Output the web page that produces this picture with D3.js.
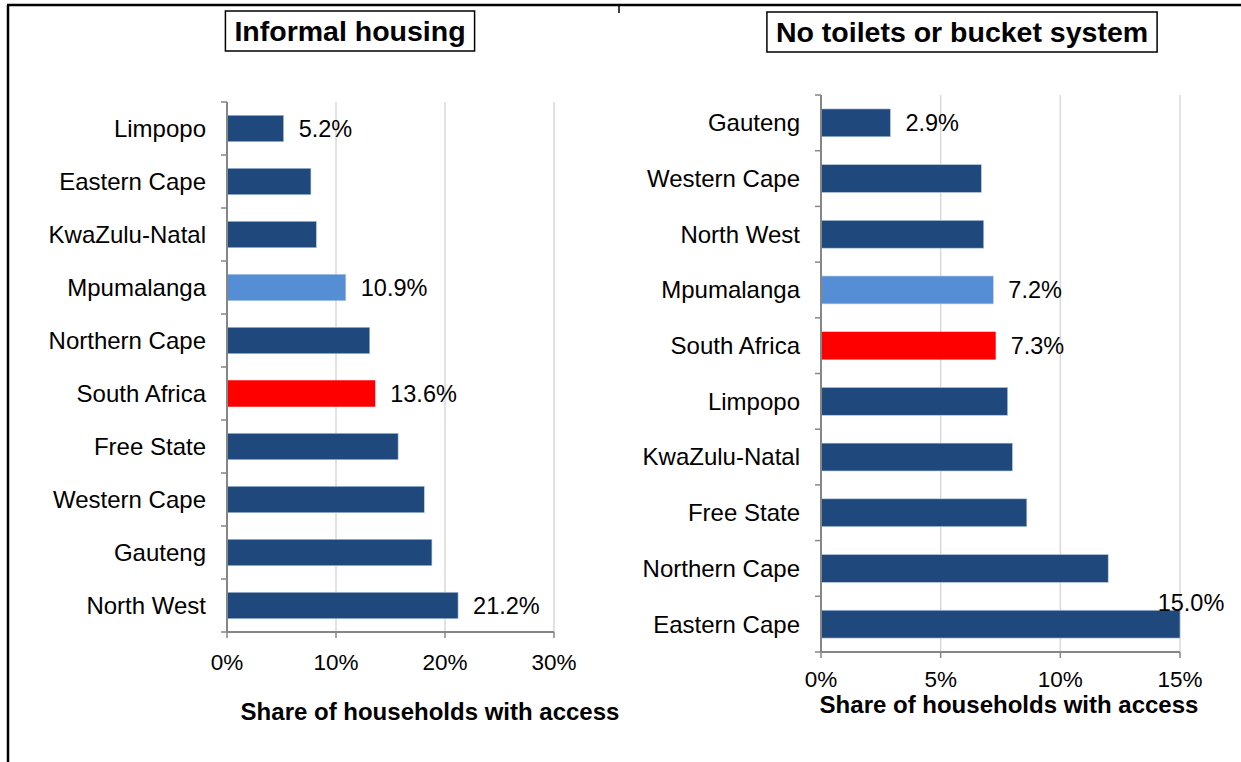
<!DOCTYPE html>
<html>
<head>
<meta charset="utf-8">
<script src="https://cdn.jsdelivr.net/npm/d3@7"></script>
<style>
  html, body { margin: 0; padding: 0; background: #fff; }
  svg { display: block; font-family: "Liberation Sans", Arial, sans-serif; }
</style>
</head>
<body>
<div id="chart"></div>
<script>
// informal housing panel
var housingProvinces = ["Limpopo", "Eastern Cape", "KwaZulu-Natal", "Mpumalanga", "Northern Cape",
    "South Africa", "Free State", "Western Cape", "Gauteng", "North West"];
var housingValues = [5.2, 7.7, 8.2, 10.9, 13.1, 13.6, 15.7, 18.1, 18.8, 21.2];
var housingLabelled = [true, false, false, true, false, true, false, false, false, true];
var housingTicks = [0, 10, 20, 30];

// no toilets / bucket system panel
var toiletProvinces = ["Gauteng", "Western Cape", "North West", "Mpumalanga", "South Africa",
    "Limpopo", "KwaZulu-Natal", "Free State", "Northern Cape", "Eastern Cape"];
var toiletValues = [2.9, 6.7, 6.8, 7.2, 7.3, 7.8, 8.0, 8.6, 12.0, 15.0];
var toiletLabelled = [true, false, false, true, true, false, false, false, false, true];
var toiletTicks = [0, 5, 10, 15];

var width = 1241;
var height = 762;

var svg = d3.select("#chart")
    .append("svg")
    .attr("width", width)
    .attr("height", height)

// outer frame (top + left edge)
svg.append("line")
    .attr("x1", 7).attr("x2", width).attr("y1", 5).attr("y2", 5)
    .attr("stroke", "#000").attr("stroke-width", 2.5)
svg.append("line")
    .attr("x1", 8).attr("x2", 8).attr("y1", 5).attr("y2", height)
    .attr("stroke", "#000").attr("stroke-width", 2.5)
svg.append("line")
    .attr("x1", 619).attr("x2", 619).attr("y1", 6).attr("y2", 13)
    .attr("stroke", "#000").attr("stroke-width", 1.5)

function barColor(name) {
    if (name == "South Africa") return "#ff0000";
    if (name == "Mpumalanga") return "#558ed5";
    return "#1f497d";
}

function drawPanel(p) {
    var g = svg.append("g");

    var x = d3.scaleLinear().domain(p.domain).range(p.xRange);
    var y = d3.scaleBand().domain(p.cats).range(p.yRange)
        .paddingInner(0.5).paddingOuter(0.25);
    var step = y.step();

    var rows = p.cats.map(function (c, i) {
        return { name: c, value: p.values[i], label: p.labelled[i] };
    });

    // gridlines
    g.selectAll(".grid")
        .data(p.ticks.slice(1))
        .enter().append("line")
        .attr("x1", function (d) { return x(d) })
        .attr("x2", function (d) { return x(d) })
        .attr("y1", p.yRange[0])
        .attr("y2", p.yRange[1])
        .attr("stroke", "#d9d9d9")
        .attr("stroke-width", 1.5)

    // bars
    g.selectAll(".bar")
        .data(rows)
        .enter().append("rect")
        .attr("x", x(0))
        .attr("y", function (d) { return y(d.name) })
        .attr("width", function (d) { return x(d.value) - x(0) })
        .attr("height", y.bandwidth())
        .attr("fill", function (d) { return barColor(d.name) })
        .attr("stroke", function (d) { return d.name == "South Africa" ? "none" : "#b9cde5" })
        .attr("stroke-width", 0.6)

    // y axis line + ticks between categories
    g.append("line")
        .attr("x1", x(0)).attr("x2", x(0))
        .attr("y1", p.yRange[0]).attr("y2", p.yRange[1])
        .attr("stroke", "#868686").attr("stroke-width", 2)
    g.selectAll(".ytick")
        .data(d3.range(p.cats.length + 1))
        .enter().append("line")
        .attr("x1", x(0) - 6).attr("x2", x(0))
        .attr("y1", function (i) { return p.yRange[0] + i * step })
        .attr("y2", function (i) { return p.yRange[0] + i * step })
        .attr("stroke", "#868686").attr("stroke-width", 1.5)

    // x axis
    g.append("line")
        .attr("x1", x(0)).attr("x2", x(p.domain[1]))
        .attr("y1", p.yRange[1]).attr("y2", p.yRange[1])
        .attr("stroke", "#868686").attr("stroke-width", 2)
    g.selectAll(".xtick")
        .data(p.ticks)
        .enter().append("line")
        .attr("x1", function (d) { return x(d) })
        .attr("x2", function (d) { return x(d) })
        .attr("y1", p.yRange[1]).attr("y2", p.yRange[1] + 6)
        .attr("stroke", "#868686").attr("stroke-width", 1.5)
    g.selectAll(".xlabel")
        .data(p.ticks)
        .enter().append("text")
        .attr("x", function (d) { return x(d) })
        .attr("y", p.tickY)
        .attr("text-anchor", "middle")
        .attr("font-size", 22.5)
        .text(function (d) { return d + "%" })

    // category labels
    g.selectAll(".cat")
        .data(rows)
        .enter().append("text")
        .attr("x", x(0) - 21)
        .attr("y", function (d) { return y(d.name) + y.bandwidth() / 2 })
        .attr("dy", "0.35em")
        .attr("text-anchor", "end")
        .attr("font-size", 24)
        .text(function (d) { return d.name })

    // value labels (only a few shown)
    g.selectAll(".val")
        .data(rows.filter(function (d) { return d.label }))
        .enter().append("text")
        .attr("x", function (d) {
            return d.value >= p.domain[1] ? x(d.value) + 11 : x(d.value) + 15;
        })
        .attr("y", function (d) {
            var cy = y(d.name) + y.bandwidth() / 2;
            return d.value >= p.domain[1] ? cy - 21 : cy;
        })
        .attr("dy", "0.35em")
        .attr("text-anchor", function (d) { return d.value >= p.domain[1] ? "middle" : "start" })
        .attr("font-size", 23.5)
        .text(function (d) { return d.value.toFixed(1) + "%" })

    // axis title
    g.append("text")
        .attr("x", p.axisTitleX)
        .attr("y", p.axisTitleY)
        .attr("text-anchor", "middle")
        .attr("font-size", 24)
        .attr("font-weight", "bold")
        .text("Share of households with access")

    // boxed panel title
    var t = g.append("text")
        .attr("x", p.titleX)
        .attr("y", p.titleY)
        .attr("text-anchor", "middle")
        .attr("font-size", 28.5)
        .attr("font-weight", "bold")
        .text(p.title)
    var bb = t.node().getBBox();
    g.insert("rect", "text")
        .attr("x", bb.x - 9)
        .attr("y", p.boxY)
        .attr("width", bb.width + 18)
        .attr("height", 40)
        .attr("fill", "#fff")
        .attr("stroke", "#000")
        .attr("stroke-width", 1.5)
}

drawPanel({
    cats: housingProvinces,
    values: housingValues,
    labelled: housingLabelled,
    ticks: housingTicks,
    domain: [0, 30],
    xRange: [227, 554],
    yRange: [102, 632],
    tickY: 670,
    axisTitleX: 430,
    axisTitleY: 720,
    title: "Informal housing",
    titleX: 350,
    titleY: 41,
    boxY: 11
});

drawPanel({
    cats: toiletProvinces,
    values: toiletValues,
    labelled: toiletLabelled,
    ticks: toiletTicks,
    domain: [0, 15],
    xRange: [821, 1180],
    yRange: [95, 652],
    tickY: 687,
    axisTitleX: 1009,
    axisTitleY: 713,
    title: "No toilets or bucket system",
    titleX: 962,
    titleY: 42,
    boxY: 12
});
</script>
</body>
</html>
